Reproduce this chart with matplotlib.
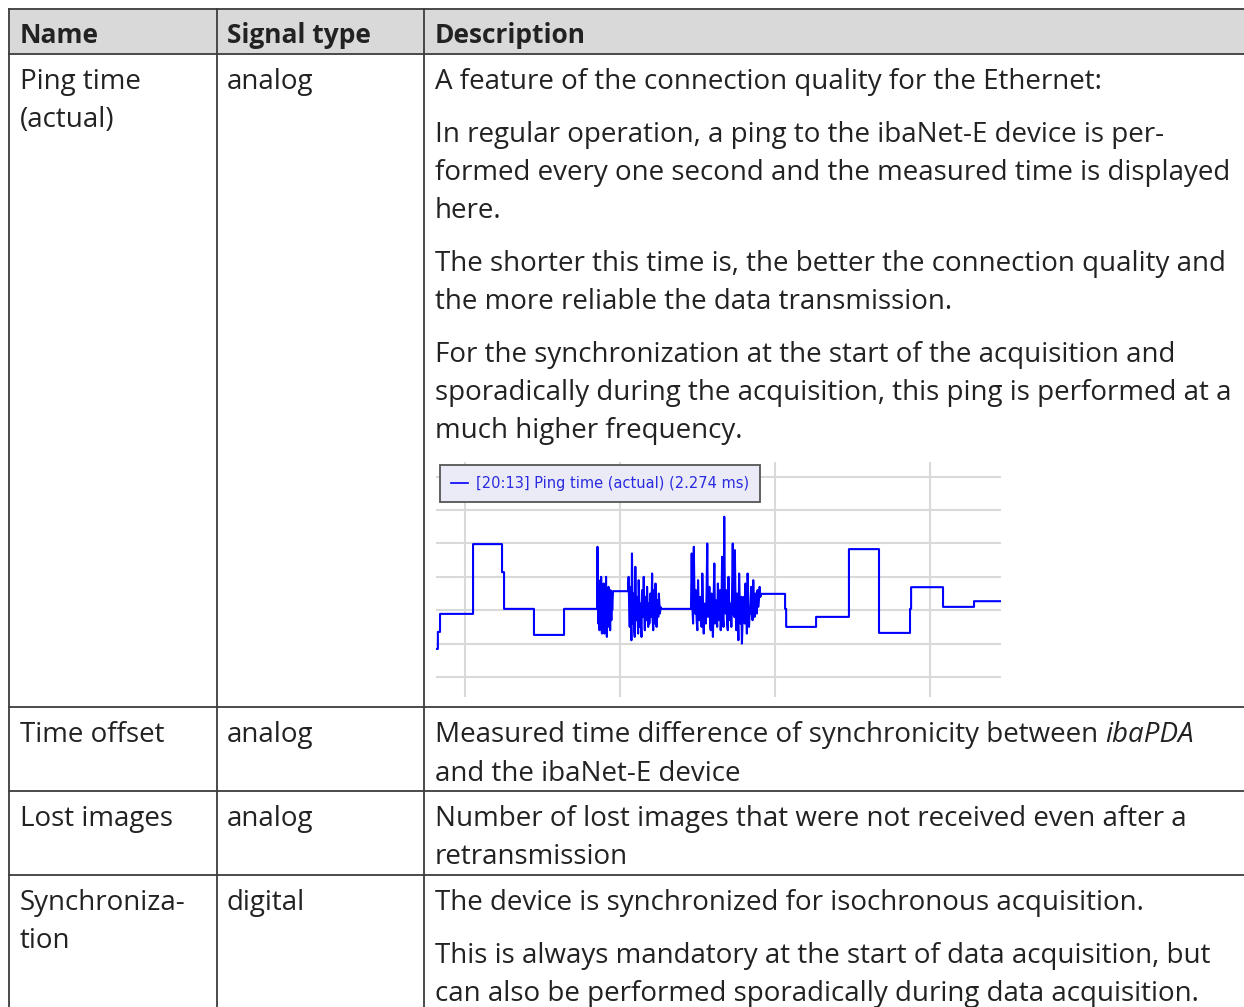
import numpy as np
import matplotlib
matplotlib.use("Agg")
import matplotlib.pyplot as plt

# --- table content ---
header = ["Name", "Signal type", "Description"]
names = [["Ping time", "(actual)"], ["Time offset"], ["Lost images"], ["Synchroniza-", "tion"]]
types = ["analog", "analog", "analog", "digital"]
desc_ping = [
    ["A feature of the connection quality for the Ethernet:"],
    ["In regular operation, a ping to the ibaNet-E device is per-",
     "formed every one second and the measured time is displayed",
     "here."],
    ["The shorter this time is, the better the connection quality and",
     "the more reliable the data transmission."],
    ["For the synchronization at the start of the acquisition and",
     "sporadically during the acquisition, this ping is performed at a",
     "much higher frequency."],
]
desc_offset = ["Measured time difference of synchronicity between ", "ibaPDA",
               "and the ibaNet-E device"]
desc_lost = ["Number of lost images that were not received even after a", "retransmission"]
desc_sync = [
    ["The device is synchronized for isochronous acquisition."],
    ["This is always mandatory at the start of data acquisition, but",
     "can also be performed sporadically during data acquisition."],
]

# --- ping time signal (s, ms) ---
flat_t0 = [8.13, 8.25, 8.39, 10.52, 12.39, 12.52, 14.45, 16.39, 19.55, 22.65,
           29.10, 30.65, 30.72, 32.65, 34.77, 36.71, 38.71, 38.78, 40.84, 42.84]
flat_t1 = [8.25, 8.39, 10.52, 12.39, 12.52, 14.45, 16.39, 18.52, 20.52, 24.58,
           30.65, 30.72, 32.65, 34.77, 36.71, 38.71, 38.78, 40.84, 42.84, 44.58]
flat_v = [0.84, 1.35, 1.89, 3.98, 3.14, 2.04, 1.26, 2.04, 2.57, 2.04,
          2.49, 2.04, 1.50, 1.80, 3.83, 1.32, 2.04, 2.69, 2.10, 2.27]

burst_t0 = [18.52, 20.52, 24.58]
burst_t1 = [19.55, 22.65, 29.10]
burst_v = [
    [2.04, 3.9, 2.2, 1.6, 2.9, 1.8, 1.4, 2.6, 2.0, 1.8, 3.0, 1.5, 1.3, 2.5, 2.1,
     1.7, 2.8, 1.4, 1.3, 2.2, 2.6, 1.9, 3.0, 1.6, 1.2, 2.4, 2.0, 1.5, 2.7, 1.8,
     1.9, 2.3, 1.4, 2.6, 2.2, 1.7, 2.5, 2.0, 2.3, 2.57],
    [2.57, 3.0, 2.1, 1.5, 2.7, 1.9, 1.1, 3.7, 2.2, 1.6, 2.5, 1.4, 1.2, 3.3, 2.0,
     1.7, 2.4, 1.8, 1.3, 2.9, 2.2, 1.5, 2.2, 1.6, 1.2, 2.6, 2.3, 1.8, 3.0, 1.9,
     1.4, 2.4, 2.0, 1.7, 2.7, 2.1, 1.5, 2.2, 1.6, 1.9, 2.5, 1.8, 2.1, 3.1, 1.7,
     1.4, 2.6, 2.0, 1.6, 2.8, 1.9, 1.5, 2.3, 2.1, 1.8, 2.5, 2.2, 1.9, 2.1, 2.04],
    [2.04, 3.7, 2.1, 1.6, 3.9, 2.3, 1.9, 2.6, 1.7, 1.4,
     2.9, 2.0, 1.7, 2.4, 1.8, 1.5, 3.1, 2.2, 1.3, 2.2,
     1.9, 1.6, 2.5, 4.0, 1.8, 2.1, 2.7, 1.5, 1.4, 2.5,
     2.0, 1.2, 2.3, 3.4, 1.6, 2.3, 1.9, 1.5, 2.8, 2.1,
     1.7, 2.6, 1.4, 2.0, 3.6, 1.8, 1.5, 4.8, 2.2, 1.9,
     2.6, 1.6, 1.4, 3.0, 2.0, 1.7, 2.2, 1.5, 2.5, 4.0,
     1.9, 1.8, 3.8, 2.1, 1.4, 2.5, 1.9, 1.1, 3.1, 2.2,
     1.6, 2.4, 1.0, 1.8, 2.4, 2.0, 1.6, 2.8, 2.1, 1.3,
     3.1, 2.3, 1.5, 2.0, 1.9, 2.7, 2.2, 1.7, 2.9, 2.0,
     1.8, 2.5, 2.2, 1.9, 2.6, 2.1, 2.3, 2.7, 2.4, 2.49],
]
legend_label = "[20:13] Ping time (actual) (2.274 ms)"

FONT = "Open Sans"
FS = 20
TXT = "#222222"
LINE = "#3c3c3c"

W, H = 1244, 1007
fig = plt.figure(figsize=(W / 100, H / 100), dpi=100)
ax0 = fig.add_axes([0, 0, 1, 1])
ax0.set_xlim(0, W)
ax0.set_ylim(H, 0)
ax0.axis("off")

# table frame
left, c1, c2, right = 9, 217, 424, W + 2
rows = [9, 54, 707, 791, 875, H + 2]
ax0.fill_between([left, right], rows[0], rows[1], color="#d9d9d9", lw=0)
for y in rows[:-1]:
    ax0.plot([left, right], [y, y], color=LINE, lw=1.3)
for x in [left, c1, c2]:
    ax0.plot([x, x], [rows[0], H + 2], color=LINE, lw=1.3)

def txt(x, y, s, size=FS, **kw):
    return ax0.text(x, y, s, fontsize=size, family=FONT, color=TXT, va="baseline", **kw)

xn, xt, xd = 20, 227, 435
for x, s in zip([xn, xt, xd], header):
    txt(x, 43, s, size=19, weight="bold")

# row 1
txt(xn, 89, names[0][0]); txt(xn, 127, names[0][1]); txt(xt, 89, types[0])
y = 89
for para in desc_ping:
    for line in para:
        txt(xd, y, line)
        y += 38
    y += 15

# row 2
txt(xn, 742, names[1][0]); txt(xt, 742, types[1])
t = txt(xd, 742, desc_offset[0].rstrip())
fig.canvas.draw()
bb = t.get_window_extent(fig.canvas.get_renderer())
txt(bb.x1 + 7, 742, desc_offset[1], style="italic")
txt(xd, 781, desc_offset[2])

# row 3
txt(xn, 826, names[2][0]); txt(xt, 826, types[2])
txt(xd, 826, desc_lost[0]); txt(xd, 864, desc_lost[1])

# row 4
txt(xn, 910, names[3][0]); txt(xn, 948, names[3][1]); txt(xt, 910, types[3])
y = 910
for para in desc_sync:
    for line in para:
        txt(xd, y, line)
        y += 38
    y += 15

# --- embedded trend chart ---
px0, px1, py0, py1 = 436, 1001, 462, 697
ax = fig.add_axes([px0 / W, 1 - py1 / H, (px1 - px0) / W, (py1 - py0) / H])
ax.set_facecolor("none")

pieces = []
for a, b, v in zip(flat_t0, flat_t1, flat_v):
    pieces.append((a, [a, b], [v, v]))
for a, b, vals in zip(burst_t0, burst_t1, burst_v):
    pieces.append((a, list(np.linspace(a, b, len(vals))), vals))
pieces.sort(key=lambda p: p[0])
ts, vs = [], []
for _, tt, vv in pieces:
    ts += tt
    vs += vv

ax.plot(ts, vs, color="#0000ff", lw=1.5, label=legend_label)
ax.set_xlim(8.13, 44.58)
ax.set_ylim(-0.6, 6.44)
ax.set_xticks([10, 20, 30, 40])
ax.set_yticks(range(7))
ax.grid(True, color="#d9d9d9", lw=1.5)
ax.set_axisbelow(True)
ax.tick_params(length=0, labelbottom=False, labelleft=False)
for s in ax.spines.values():
    s.set_visible(False)
leg = ax.legend(loc="upper left", bbox_to_anchor=(0.007, 0.987), borderaxespad=0,
                fancybox=False, frameon=True, handlelength=1.2,
                handletextpad=0.55, borderpad=0.75, labelcolor="#2a2ae0",
                prop={"family": "DejaVu Sans", "size": 10.5})
leg.get_frame().set_facecolor("#ebebf7")
leg.get_frame().set_edgecolor("#555555")
leg.get_frame().set_linewidth(1.3)
leg.get_frame().set_alpha(1)
for h in leg.get_lines():
    h.set_linewidth(1.2)

fig.savefig("out.png", dpi=100)
